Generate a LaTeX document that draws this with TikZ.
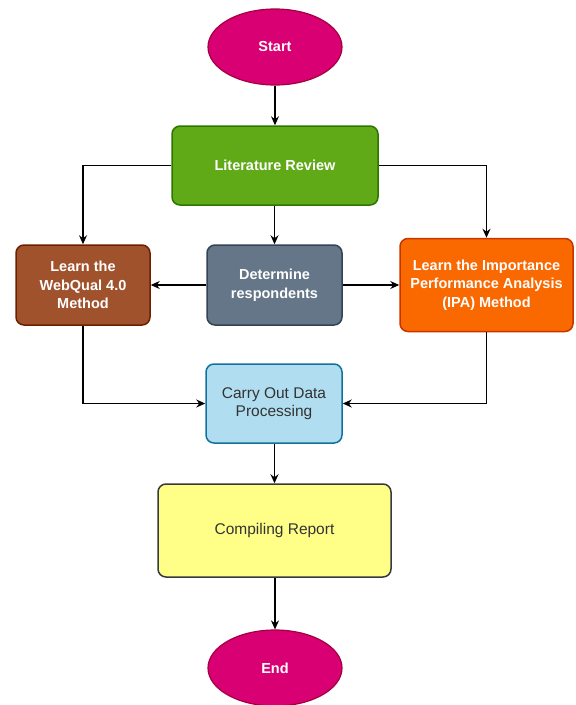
\documentclass[tikz,border=0pt]{standalone}
\usepackage{fontspec}
\setmainfont{Liberation Sans}
\usetikzlibrary{shapes.geometric,arrows.meta}
\definecolor{magF}{HTML}{D80073}\definecolor{magS}{HTML}{A50040}
\definecolor{grnF}{HTML}{60A917}\definecolor{grnS}{HTML}{2D7600}
\definecolor{brnF}{HTML}{A0522D}\definecolor{brnS}{HTML}{6D1F00}
\definecolor{gryF}{HTML}{647687}\definecolor{gryS}{HTML}{314354}
\definecolor{orgF}{HTML}{FA6800}\definecolor{orgS}{HTML}{C73500}
\definecolor{bluF}{HTML}{B1DDF0}\definecolor{bluS}{HTML}{10739E}
\definecolor{yelF}{HTML}{FFFF88}\definecolor{yelS}{HTML}{36393D}
\definecolor{txtD}{HTML}{333333}
\begin{document}
\begin{tikzpicture}[x=1pt,y=-1pt,
  every node/.style={align=center, inner sep=0pt},
  term/.style={ellipse, minimum width=134pt, minimum height=76pt, line width=1.2pt, text=white, font=\fontsize{14.5}{18}\selectfont\bfseries},
  box/.style={rectangle, rounded corners=8pt, line width=1.5pt},
  wbox/.style={box, text=white, font=\fontsize{14.5}{18.7}\selectfont\bfseries},
  dbox/.style={box, text=txtD, font=\fontsize{15.5}{18.5}\selectfont},
  conn/.style={line width=1.2pt, -{Stealth[length=9pt,width=8pt]}}]
\useasboundingbox (0,0) rectangle (576,705);
\node[term, fill=magF, draw=magS] (start) at (275,47) {Start};
\node[wbox, fill=grnF, draw=grnS, minimum width=206pt, minimum height=79pt] (lit) at (275,165.5) {Literature Review};
\node[wbox, fill=brnF, draw=brnS, minimum width=134pt, minimum height=80pt] (web) at (83,285) {Learn the\\WebQual 4.0\\Method};
\node[wbox, fill=gryF, draw=gryS, minimum width=135pt, minimum height=80pt] (det) at (274.5,285) {Determine\\respondents};
\node[wbox, fill=orgF, draw=orgS, minimum width=173pt, minimum height=93pt] (ipa) at (486.5,285) {Learn the Importance\\Performance Analysis\\(IPA) Method};
\node[dbox, fill=bluF, draw=bluS, minimum width=136pt, minimum height=79pt] (dat) at (274,403.5) {Carry Out Data\\Processing};
\node[dbox, fill=yelF, draw=yelS, minimum width=233pt, minimum height=93pt] (rep) at (274.5,530.5) {Compiling Report};
\node[term, fill=magF, draw=magS] (end) at (275,668) {End};
\draw[conn] (start) -- (lit);
\draw[conn] (lit.west) -| (web.north);
\draw[conn] (lit.east) -| (ipa.north);
\draw[conn] (lit.south -| det.north) -- (det.north);
\draw[conn] (det.west) -- (web.east);
\draw[conn] (det.east) -- (ipa.west);
\draw[conn] (web.south) |- (dat.west);
\draw[conn] (ipa.south) |- (dat.east);
\draw[conn] (dat.south -| rep.north) -- (rep.north);
\draw[conn] (rep.south -| end.north) -- (end.north);
\end{tikzpicture}
\end{document}
